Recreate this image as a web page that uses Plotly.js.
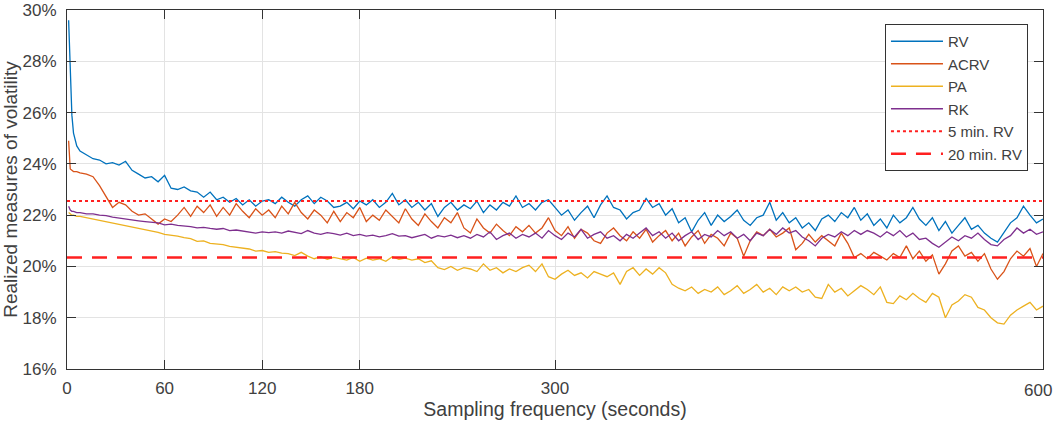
<!DOCTYPE html>
<html>
<head>
<meta charset="utf-8">
<script src="https://cdn.plot.ly/plotly-3.0.1.min.js"></script>
<style>html,body{margin:0;padding:0;background:#fff;}#chart{width:1055px;height:426px;}</style>
</head>
<body>
<div id="chart"></div>
<script>
// Sampling frequencies (seconds): 1,2,3,4,6 then every 4 s up to 600
const seconds = [1, 2, 3, 4, 6];
for (let s = 8; s <= 600; s += 4) seconds.push(s);

const xTicks = [0, 60, 120, 180, 300, 600];
const xTickText = ['0', '60', '120', '180', '300', ''];
const lastTickLabel = '600';
const yTicks = [16, 18, 20, 22, 24, 26, 28, 30];

// Realized volatility (%)
const rv = [
  29.6, 27.8, 25.9, 25.2, 24.7,
  24.5, 24.35, 24.2, 24.15, 24.0, 24.05, 23.95, 24.1, 23.75, 23.6,
  23.45, 23.5, 23.3, 23.55, 23.05, 23.0, 23.1, 22.95, 22.9, 22.7,
  22.9, 22.6, 22.7, 22.5, 22.65, 22.4, 22.6, 22.35, 22.55, 22.6,
  22.45, 22.7, 22.5, 22.35, 22.6, 22.75, 22.45, 22.7, 22.55, 22.3,
  22.35, 22.5, 22.25, 22.55, 22.4, 22.6, 22.3, 22.5, 22.85, 22.4,
  22.6, 22.3, 22.5, 22.2, 22.45, 21.95, 22.3, 22.5, 22.2, 22.4,
  22.25, 22.55, 22.1, 22.4, 22.2, 22.5, 22.35, 22.75, 22.3, 22.45,
  22.2, 22.5, 22.6, 22.3, 22.0, 22.2, 21.8, 22.1, 22.35, 21.9,
  22.4, 22.75, 22.3, 22.2, 21.85, 22.1, 22.2, 22.65, 22.3, 22.45,
  22.0, 22.25, 21.7, 21.9, 21.35, 21.8, 22.1, 21.6, 22.0, 21.75,
  21.95, 22.2, 21.8, 21.6, 21.9, 22.0, 22.5, 21.8, 22.1, 21.7,
  21.9, 21.5, 21.7, 21.4, 21.85, 22.0, 21.75, 22.1, 21.9, 22.3,
  21.8, 22.05, 21.6, 21.85, 21.5, 22.0, 21.7, 21.9, 22.3, 21.85,
  21.6, 21.9, 21.4, 21.75, 21.3, 21.6, 21.9, 21.45, 21.6, 21.3,
  21.1, 20.95, 21.3, 21.7, 21.9, 22.35, 22.0, 21.7, 21.85
];

// Autocorrelation-corrected RV (%)
const acrv = [
  24.9, 23.8, 23.75, 23.7, 23.7,
  23.65, 23.6, 23.5, 23.15, 22.7, 22.3, 22.5, 22.4, 22.15, 22.0,
  22.05, 21.85, 21.65, 21.85, 21.75, 22.0, 22.3, 21.95, 22.35, 22.1,
  22.4, 21.95, 22.3, 22.0, 22.45, 22.15, 21.9, 22.25, 22.0, 22.2,
  21.9, 22.35, 22.05, 22.5, 22.1, 21.85, 22.2, 22.0, 21.7, 22.15,
  21.75, 22.1, 21.9, 22.3, 21.75, 22.0, 21.8, 22.2, 21.95, 21.7,
  22.25, 21.85, 21.6, 22.05, 21.75, 21.5, 21.9, 21.7, 22.1, 21.5,
  21.3, 21.85, 21.5, 21.3, 21.65, 21.4, 21.2, 21.55, 21.35, 21.6,
  21.3, 21.5, 21.9, 21.4, 21.2, 21.55, 21.1, 21.45, 21.3, 21.0,
  20.9, 21.3, 21.5, 21.2, 21.0, 21.35, 21.1, 21.45, 20.95, 21.2,
  21.4, 21.0, 21.3, 20.8, 21.15, 21.4, 20.9, 21.25, 21.1, 20.8,
  21.3, 21.1, 20.4, 21.0, 21.35, 21.2, 21.45, 21.15, 21.3, 21.5,
  20.65, 20.9, 21.25, 20.95, 21.2, 21.0, 20.8, 21.3, 20.9, 20.35,
  20.5, 20.3, 20.55, 20.4, 20.25, 20.5, 20.35, 20.8, 20.3, 20.6,
  20.2, 20.45, 19.7, 20.1, 20.6, 20.8, 20.4, 20.55, 20.2, 20.5,
  19.9, 19.5, 19.8, 20.3, 20.6, 20.4, 20.7, 20.0, 20.5
];

// Pre-averaging (%)
const pa = [
  22.1, 22.05, 22.0, 22.0, 21.95,
  21.95, 21.9, 21.85, 21.8, 21.75, 21.68, 21.62, 21.58, 21.52, 21.48,
  21.42, 21.38, 21.33, 21.25, 21.22, 21.18, 21.12, 21.08, 20.98, 21.0,
  20.9, 20.88, 20.85, 20.78, 20.75, 20.72, 20.68, 20.6, 20.62, 20.55,
  20.58, 20.52, 20.5, 20.42, 20.55, 20.4, 20.3, 20.38, 20.28, 20.35,
  20.3, 20.25, 20.35, 20.2, 20.32, 20.25, 20.3, 20.2, 20.38, 20.28,
  20.32, 20.25, 20.3, 20.15, 20.22, 19.95, 19.88, 20.0, 19.85, 19.95,
  19.9, 19.8, 20.1, 19.85, 19.95, 19.75, 19.9, 19.8, 19.95, 20.05,
  19.8, 20.1, 19.6, 19.5, 19.7, 19.85, 19.65, 19.75, 19.55, 19.8,
  19.7, 19.6, 19.75, 19.3, 19.8, 19.95, 19.65, 19.9, 19.7, 19.95,
  19.75, 19.3, 19.15, 19.05, 19.2, 18.95, 19.1, 19.0, 19.2, 18.9,
  19.05, 19.25, 18.95, 19.1, 19.3, 19.0, 19.15, 18.9, 19.2, 19.05,
  19.2, 19.0, 19.1, 18.8, 18.75, 19.3, 19.0, 19.15, 18.85, 19.05,
  19.25, 19.1, 18.9, 19.2, 18.6, 18.55, 18.85, 18.7, 18.95, 18.75,
  18.6, 18.95, 18.8, 18.0, 18.5, 18.65, 18.9, 18.8, 18.4, 18.3,
  18.0, 17.8, 17.75, 18.1, 18.3, 18.45, 18.6, 18.3, 18.45
];

// Realized kernel (%)
const rk = [
  22.35, 22.2, 22.15, 22.15, 22.1,
  22.1, 22.05, 22.05, 22.0, 21.98, 21.92, 21.88, 21.85, 21.82, 21.78,
  21.75, 21.72, 21.7, 21.62, 21.65, 21.6, 21.58, 21.55, 21.5, 21.52,
  21.48, 21.45, 21.48, 21.4, 21.42, 21.38, 21.35, 21.3, 21.35, 21.32,
  21.35, 21.3, 21.38, 21.32, 21.28, 21.4, 21.3, 21.25, 21.32, 21.28,
  21.22, 21.3, 21.2, 21.25, 21.18, 21.22, 21.15, 21.2, 21.28, 21.18,
  21.2, 21.12, 21.18, 21.25, 21.1, 21.2, 21.15, 21.22, 21.12, 21.2,
  21.1, 21.25, 21.15, 21.35, 21.05, 21.2, 21.3, 21.1, 21.25, 21.15,
  21.3, 21.1, 21.4, 21.2, 21.05, 21.3, 21.15, 21.45, 21.1, 21.25,
  21.35, 21.1, 21.2, 21.0, 21.25, 21.1, 21.3, 21.5, 21.2, 21.35,
  21.1, 21.3, 21.0, 21.2, 21.35, 21.05, 21.25, 21.15, 21.4, 21.2,
  21.35, 21.1, 21.25, 21.0, 21.3, 21.2, 21.45, 21.25, 21.5, 21.3,
  21.4, 21.15, 21.0, 20.8, 21.1, 21.25, 21.15, 21.35, 21.2, 21.4,
  21.25, 21.4, 21.3, 21.15, 21.35, 21.2, 21.4, 21.15, 21.3, 21.05,
  21.1, 20.9, 20.75, 20.95, 21.15, 21.0, 21.2, 21.1, 21.3, 21.05,
  20.85, 20.8, 21.05, 21.2, 21.5, 21.3, 21.45, 21.25, 21.35
];

// Benchmarks (%)
const refX = [0, 600];
const rv5min = [22.55, 22.55];
const rv20min = [20.35, 20.35];

const txt = '#404040';
const fam = 'Liberation Sans, Arial, sans-serif';
const traces = [
  {x: seconds, y: rv, name: 'RV', mode: 'lines', line: {color: '#0072BD', width: 1.3}},
  {x: seconds, y: acrv, name: 'ACRV', mode: 'lines', line: {color: '#D95319', width: 1.3}},
  {x: seconds, y: pa, name: 'PA', mode: 'lines', line: {color: '#EDB120', width: 1.3}},
  {x: seconds, y: rk, name: 'RK', mode: 'lines', line: {color: '#7E2F8E', width: 1.3}},
  {x: refX, y: rv5min, name: '5 min. RV', mode: 'lines', line: {color: '#FF2020', width: 2, dash: 'dot'}},
  {x: refX, y: rv20min, name: '20 min. RV', mode: 'lines', line: {color: '#FF2020', width: 2.5, dash: '15px,10px'}}
];

const axisCommon = {
  showline: true, linecolor: '#333333', linewidth: 1, mirror: 'ticks',
  ticks: 'inside', ticklen: 9, tickcolor: '#333333', tickwidth: 1,
  showgrid: true, gridcolor: '#e3e3e3', gridwidth: 1, zeroline: false,
  tickfont: {family: fam, size: 17, color: txt}
};

const layout = {
  width: 1055, height: 426,
  margin: {l: 67, r: 12, t: 10, b: 57},
  paper_bgcolor: '#ffffff', plot_bgcolor: '#ffffff',
  showlegend: true,
  xaxis: Object.assign({}, axisCommon, {
    range: [0, 600], tickmode: 'array', tickvals: xTicks, ticktext: xTickText,
    ticklabelstandoff: 4,
    title: {text: 'Sampling frequency (seconds)', standoff: 4,
            font: {family: fam, size: 19.5, color: txt}}
  }),
  yaxis: Object.assign({}, axisCommon, {
    range: [16, 30], tickmode: 'array', tickvals: yTicks, ticktext: yTicks.map(v => v + '%'),
    ticklabelstandoff: 6,
    title: {text: 'Realized measures of volatility', standoff: 4,
            font: {family: fam, size: 19, color: txt}}
  }),
  legend: {
    x: 0.9846, xanchor: 'right', y: 0.961, yanchor: 'top',
    bgcolor: '#ffffff', bordercolor: '#333333', borderwidth: 1,
    font: {family: fam, size: 15, color: txt},
    itemwidth: 52, tracegroupgap: 0
  },
  annotations: [{
    xref: 'x', x: xTicks[xTicks.length - 1], xanchor: 'right', xshift: 11,
    yref: 'paper', y: 0, yanchor: 'top', yshift: -10,
    text: lastTickLabel, showarrow: false,
    font: {family: fam, size: 17, color: txt}
  }]
};

Plotly.newPlot('chart', traces, layout, {staticPlot: true, displayModeBar: false});
</script>
</body>
</html>
